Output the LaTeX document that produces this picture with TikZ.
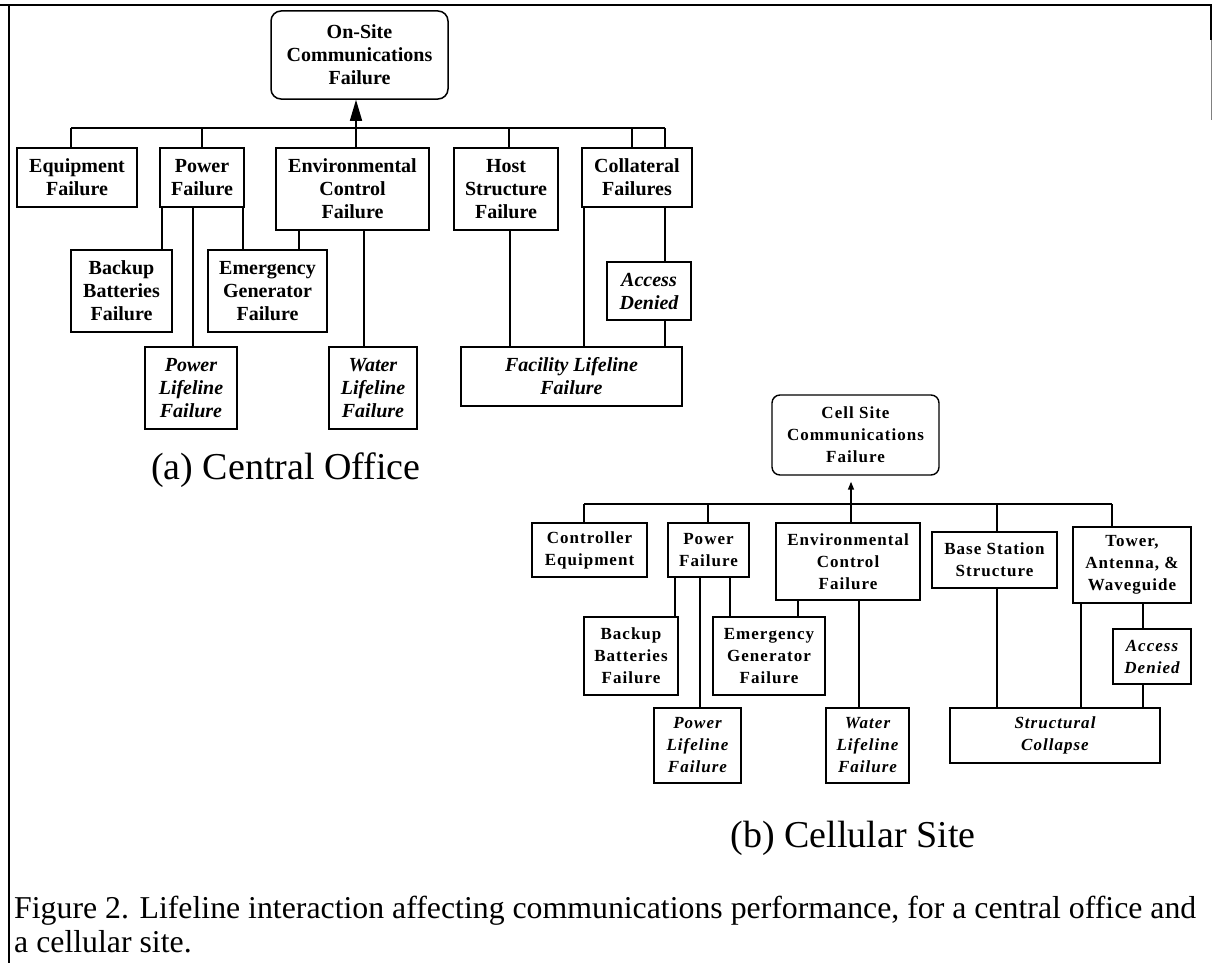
\documentclass[tikz,border=0pt]{standalone}
\usepackage{fontspec}
\setmainfont{Liberation Serif}
\newfontfamily\cellfont[LetterSpace=6]{Liberation Serif}
\usetikzlibrary{arrows.meta}
% box from corners: style, name, x1, y1, x2, y2, text
\newcommand\cornerbox[7]{%
  \node[#1, minimum width={(#5)-(#3)}, minimum height={(#6)-(#4)}] (#2)
    at ({((#3)+(#5))/2},{((#4)+(#6))/2}) {#7};}
\begin{document}
\begin{tikzpicture}[x=1pt,y=-1pt,
  abox/.style={draw, line width=1.5pt, inner sep=0pt, align=center,
    font=\fontsize{20}{23}\selectfont\bfseries},
  aital/.style={abox, font=\fontsize{20}{23}\selectfont\bfseries\itshape},
  bbox/.style={draw, line width=1.4pt, inner sep=0pt, align=center,
    font=\cellfont\fontsize{17}{22}\selectfont\bfseries},
  bital/.style={bbox, font=\cellfont\fontsize{17}{22}\selectfont\bfseries\itshape},
  conn/.style={line width=1.5pt},
  frame/.style={line width=2pt},
  caption/.style={inner sep=0pt, anchor=base west, font=\fontsize{31.8}{34}\selectfont},
  sublabel/.style={inner sep=0pt, font=\fontsize{38}{40}\selectfont}
]
\useasboundingbox (0,0) rectangle (1212,966);

% frame
\coordinate (fTL) at (9,5);
\coordinate (fL) at (0,5);
\coordinate (fR) at (1212,5);
\coordinate (fBL) at (9,963);
\coordinate (fRT) at (1211,5);
\coordinate (fRB) at (1211,40);
\coordinate (fRB2) at (1211,120);
\draw[frame] (fL) -- (fR);
\draw[frame] (fTL) -- (fBL);
\draw[frame] (fRT) -- (fRB);
\draw[line width=1pt, gray] (fRB) -- (fRB2);

% ================= (a) Central Office =================
\cornerbox{abox, rounded corners=10pt}{top}{271}{11}{448}{99}{On-Site\\Communications\\Failure}

\cornerbox{abox}{eq}{17}{148}{137}{207}{Equipment\\Failure}
\cornerbox{abox}{pw}{160}{148}{244}{207}{Power\\Failure}
\cornerbox{abox}{env}{276}{148}{429}{230}{Environmental\\Control\\Failure}
\cornerbox{abox}{host}{454}{148}{558}{230}{Host\\Structure\\Failure}
\cornerbox{abox}{coll}{582}{148}{692}{207}{Collateral\\Failures}

\cornerbox{abox}{bak}{71}{250}{172}{332}{Backup\\Batteries\\Failure}
\cornerbox{abox}{emg}{208}{250}{327}{332}{Emergency\\Generator\\Failure}
\cornerbox{aital}{acc}{607}{262}{691}{320}{Access\\Denied}

\cornerbox{aital}{plf}{145}{347}{237}{429}{Power\\Lifeline\\Failure}
\cornerbox{aital}{wlf}{329}{347}{417}{429}{Water\\Lifeline\\Failure}
\cornerbox{aital}{flf}{461}{347}{682}{406}{Facility Lifeline\\Failure}

% bus
\coordinate (busa1) at (71,128);
\coordinate (busa2) at (665,128);
\draw[conn] (busa1) -- (busa2);
\draw[conn] (eq.north -| busa1) -- (busa1);
\draw[conn] (pw.north -| 202,0) -- (202,128);
\draw[conn] (host.north -| 509,0) -- (509,128);
\draw[conn] (coll.north -| 632,0) -- (632,128);
\draw[conn] (coll.north -| busa2) -- (busa2);
\draw[conn, -{Triangle[length=21pt,width=12pt]}] (env.north -| 356,0) -- (top.south -| 356,0);

% lower connectors
\draw[conn] (pw.south -| 162,0) -- (bak.north -| 162,0);
\draw[conn] (pw.south -| 193,0) -- (plf.north -| 193,0);
\draw[conn] (pw.south -| 243,0) -- (emg.north -| 243,0);
\draw[conn] (env.south -| 299,0) -- (emg.north -| 299,0);
\draw[conn] (env.south -| 364,0) -- (wlf.north -| 364,0);
\draw[conn] (host.south -| 510,0) -- (flf.north -| 510,0);
\draw[conn] (coll.south -| 584,0) -- (flf.north -| 584,0);
\draw[conn] (coll.south -| 665,0) -- (acc.north -| 665,0);
\draw[conn] (acc.south -| 665,0) -- (flf.north -| 665,0);

\node[sublabel] (laba) at (286,470) {(a) Central Office};

% ================= (b) Cellular Site =================
\cornerbox{bbox, rounded corners=8pt}{top2}{772}{395}{939}{475}{Cell Site\\Communications\\Failure}

\cornerbox{bbox}{ctl}{532}{523}{647}{577}{Controller\\Equipment}
\cornerbox{bbox}{pw2}{668}{523}{749}{577}{Power\\Failure}
\cornerbox{bbox}{env2}{776}{523}{920}{600}{Environmental\\Control\\Failure}
\cornerbox{bbox}{base}{932}{532}{1057}{588}{Base Station\\Structure}
\cornerbox{bbox}{tow}{1073}{527}{1191}{603}{Tower,\\Antenna, \&\\Waveguide}

\cornerbox{bbox}{bak2}{584}{617}{678}{695}{Backup\\Batteries\\Failure}
\cornerbox{bbox}{emg2}{713}{617}{825}{695}{Emergency\\Generator\\Failure}
\cornerbox{bital}{acc2}{1113}{629}{1191}{684}{Access\\Denied}

\cornerbox{bital}{plf2}{654}{708}{741}{783}{Power\\Lifeline\\Failure}
\cornerbox{bital}{wlf2}{826}{708}{909}{783}{Water\\Lifeline\\Failure}
\cornerbox{bital}{col2}{950}{708}{1160}{763}{Structural\\Collapse}

% bus
\coordinate (busb1) at (584,504);
\coordinate (busb2) at (1112,504);
\draw[conn] (busb1) -- (busb2);
\draw[conn] (ctl.north -| busb1) -- (busb1);
\draw[conn] (pw2.north -| 708,0) -- (708,504);
\draw[conn] (base.north -| 997,0) -- (997,504);
\draw[conn] (tow.north -| busb2) -- (busb2);
\draw[conn, shorten >=6pt, -{Triangle[length=8pt,width=6pt]}] (env2.north -| 851,0) -- (top2.south -| 851,0);

% lower connectors
\draw[conn] (pw2.south -| 675,0) -- (bak2.north -| 675,0);
\draw[conn] (pw2.south -| 700,0) -- (plf2.north -| 700,0);
\draw[conn] (pw2.south -| 730,0) -- (emg2.north -| 730,0);
\draw[conn] (env2.south -| 798,0) -- (emg2.north -| 798,0);
\draw[conn] (env2.south -| 859,0) -- (wlf2.north -| 859,0);
\draw[conn] (base.south -| 997,0) -- (col2.north -| 997,0);
\draw[conn] (tow.south -| 1081,0) -- (col2.north -| 1081,0);
\draw[conn] (tow.south -| 1143,0) -- (acc2.north -| 1143,0);
\draw[conn] (acc2.south -| 1143,0) -- (col2.north -| 1143,0);

\node[sublabel] (labb) at (853,838) {(b) Cellular Site};

% caption
\node[caption] (cap1) at (14,918) {Figure 2. Lifeline interaction affecting communications performance, for a central office and};
\node[caption] (cap2) at (14,952) {a cellular site.};
\end{tikzpicture}
\end{document}
